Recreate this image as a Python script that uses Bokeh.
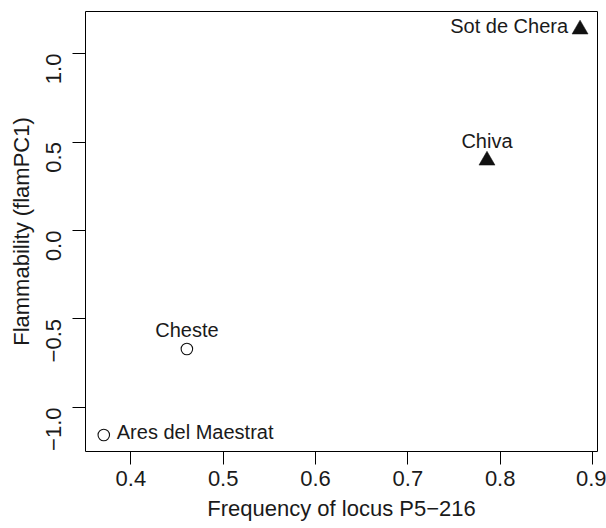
import math
from bokeh.plotting import figure
from bokeh.models import Range1d, FixedTicker, CustomJSTickFormatter, ColumnDataSource
from bokeh.embed import file_html
from bokeh.resources import INLINE
from bokeh.core.properties import value

# ---- data ----
sites = ["Sot de Chera", "Chiva", "Cheste", "Ares del Maestrat"]
freq = [0.8865, 0.7857, 0.4607, 0.3707]        # Frequency of locus P5-216
flam = [1.137, 0.396, -0.6695, -1.156]          # Flammability (flamPC1)
marker_kind = ["filled", "filled", "open", "open"]
label_pos = [2, 3, 3, 4]                        # R text() pos codes: 2 left, 3 above, 4 right
x_ticks = [0.4, 0.5, 0.6, 0.7, 0.8, 0.9]
y_ticks = [-1.0, -0.5, 0.0, 0.5, 1.0]
x_title = "Frequency of locus P5\u2212216"
y_title = "Flammability (flamPC1)"

FONT = "Liberation Sans"
FS_PTS = "20px"
FS_AX = "22px"

p = figure(width=606, height=528, output_backend="svg", toolbar_location=None,
           x_range=Range1d(0.3509, 0.9054), y_range=Range1d(-1.249, 1.238),
           min_border_left=85, min_border_right=9, min_border_top=11, min_border_bottom=77)
p.background_fill_color = "white"
p.border_fill_color = "white"
p.outline_line_color = "black"
p.outline_line_width = 1
p.xgrid.visible = False
p.ygrid.visible = False

fmt = "return tick.toFixed(1).replace('-', '\u2212');"
for ax, ticks in ((p.xaxis[0], x_ticks), (p.yaxis[0], y_ticks)):
    ax.ticker = FixedTicker(ticks=ticks)
    ax.formatter = CustomJSTickFormatter(code=fmt)
    ax.axis_line_color = None
    ax.major_tick_line_color = "black"
    ax.major_tick_out = 13
    ax.major_tick_in = 0
    ax.minor_tick_out = 0
    ax.minor_tick_in = 0
    ax.major_label_text_font = FONT
    ax.major_label_text_font_size = FS_AX
    ax.major_label_text_color = "#1a1a1a"
    ax.axis_label_text_font = FONT
    ax.axis_label_text_font_size = FS_AX
    ax.axis_label_text_font_style = "normal"
    ax.axis_label_text_color = "#1a1a1a"

p.xaxis.axis_label = x_title
p.yaxis.axis_label = y_title
p.xaxis.major_label_standoff = 6
p.xaxis.axis_label_standoff = 7
p.yaxis.major_label_standoff = 19
p.yaxis.axis_label_standoff = 2
p.yaxis.major_label_orientation = math.pi / 2

src_filled = ColumnDataSource(dict(
    x=[f for f, k in zip(freq, marker_kind) if k == "filled"],
    y=[v for v, k in zip(flam, marker_kind) if k == "filled"]))
src_open = ColumnDataSource(dict(
    x=[f for f, k in zip(freq, marker_kind) if k == "open"],
    y=[v for v, k in zip(flam, marker_kind) if k == "open"]))

p.scatter("x", "y", source=src_filled, marker="triangle", size=16,
          fill_color="#111111", line_color="#111111", line_width=0.5)
p.scatter("x", "y", source=src_open, marker="circle", size=11.5,
          fill_color=None, line_color="#111111", line_width=1.1)

# label placement per R pos code
pos_style = {
    2: dict(text_align="right", text_baseline="alphabetic", x_offset=-12, y_offset=-3),
    3: dict(text_align="center", text_baseline="alphabetic", x_offset=0, y_offset=-19),
    4: dict(text_align="left", text_baseline="alphabetic", x_offset=13, y_offset=-3),
}
for code, style in pos_style.items():
    idx = [i for i, c in enumerate(label_pos) if c == code]
    if not idx:
        continue
    s = ColumnDataSource(dict(x=[freq[i] for i in idx], y=[flam[i] for i in idx],
                              t=[sites[i] for i in idx]))
    p.text("x", "y", text="t", source=s, text_font=value(FONT), text_font_size=FS_PTS,
           text_color="#1a1a1a", **style)

open("out.html", "w").write(file_html(p, INLINE))
